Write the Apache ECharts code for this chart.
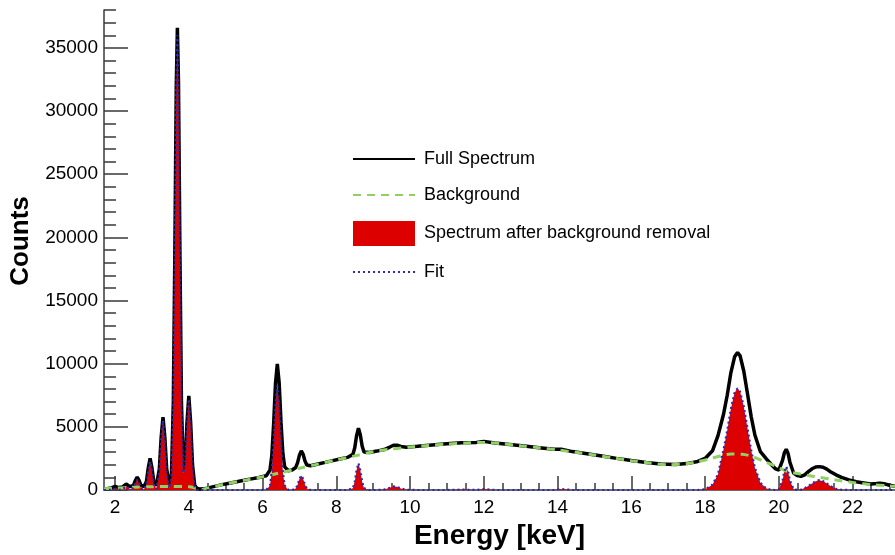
<!DOCTYPE html>
<html>
<head>
<meta charset="utf-8">
<script src="https://cdn.jsdelivr.net/npm/echarts@6/dist/echarts.min.js"></script>
<style>
  html, body { margin: 0; padding: 0; background: #fff; }
  #chart { width: 895px; height: 555px; }
</style>
</head>
<body>
<div id="chart"></div>
<script>
// energy grid (keV), denser around the peaks
var energy = [
  1.70, 1.80, 1.90, 2.00, 2.10, 2.20, 2.25, 2.30, 2.35, 2.40,
  2.50, 2.55, 2.60, 2.65, 2.70, 2.78, 2.85, 2.90, 2.95, 3.00,
  3.05, 3.12, 3.20, 3.25, 3.30, 3.35, 3.40, 3.47, 3.53, 3.58,
  3.62, 3.66, 3.69, 3.72, 3.76, 3.80, 3.85, 3.90, 3.95, 4.00,
  4.05, 4.10, 4.16, 4.22, 4.30, 4.40, 4.50, 4.70, 4.90, 5.10,
  5.30, 5.50, 5.70, 5.90, 6.10, 6.20, 6.25, 6.30, 6.35, 6.40,
  6.45, 6.50, 6.55, 6.60, 6.70, 6.80, 6.90, 6.95, 7.00, 7.05,
  7.10, 7.15, 7.20, 7.30, 7.50, 7.70, 7.90, 8.10, 8.30, 8.45,
  8.50, 8.55, 8.60, 8.65, 8.70, 8.75, 8.80, 8.90, 9.10, 9.30,
  9.45, 9.55, 9.65, 9.75, 9.90, 10.2, 10.6, 11.0, 11.4, 11.8,
  12.0, 12.3, 12.7, 13.1, 13.5, 13.9, 14.1, 14.4, 14.8, 15.2,
  15.6, 16.0, 16.4, 16.8, 17.2, 17.5, 17.8, 18.0, 18.2, 18.35,
  18.5, 18.6, 18.7, 18.8, 18.88, 18.95, 19.05, 19.15, 19.25, 19.35,
  19.5, 19.65, 19.8, 19.9, 20.0, 20.1, 20.15, 20.2, 20.25, 20.3,
  20.4, 20.5, 20.6, 20.7, 20.8, 20.9, 21.0, 21.1, 21.2, 21.3,
  21.4, 21.55, 21.7, 21.9, 22.1, 22.3, 22.5, 22.65, 22.75, 22.85,
  23.0, 23.15
];

// full spectrum (black)
var fullCounts = [
  100, 117, 160, 280, 190, 231, 370, 472, 384, 259,
  373, 753, 1028, 761, 389, 265, 678, 1739, 2506, 1747,
  692, 345, 1643, 4160, 5772, 4164, 1651, 422, 1288, 6975,
  18473, 32070, 36600, 32300, 18464, 6992, 1584, 2136, 5343, 7450,
  5312, 1995, 364, 139, 70, 90, 150, 290, 425, 540,
  655, 765, 880, 995, 1130, 1560, 2710, 5220, 8415, 9985,
  8480, 5350, 2905, 1830, 1525, 1585, 1784, 2167, 2759, 3095,
  2829, 2302, 1984, 1925, 2060, 2190, 2325, 2455, 2580, 2820,
  3350, 4310, 4885, 4375, 3480, 3015, 2920, 2970, 3080, 3200,
  3400, 3545, 3545, 3445, 3390, 3460, 3570, 3660, 3750, 3770,
  3850, 3720, 3610, 3490, 3350, 3230, 3230, 3040, 2870, 2690,
  2505, 2330, 2180, 2060, 2020, 2090, 2260, 2500, 3100, 4300,
  6000, 7500, 9300, 10545, 10890, 10615, 9400, 7625, 5810, 4355,
  3030, 2500, 2000, 1700, 1580, 2350, 2950, 3230, 2900, 2200,
  1350, 1150, 1080, 1200, 1450, 1680, 1820, 1850, 1800, 1650,
  1450, 1200, 1000, 800, 650, 560, 470, 510, 540, 500,
  380, 290
];

// spectrum after background removal (red fill), also drawn as the fit
var netCounts = [
  0, 0, 20, 100, 20, 53, 185, 280, 185, 53,
  153, 529, 800, 529, 153, 23, 430, 1487, 2250, 1487,
  430, 80, 1375, 3890, 5500, 3890, 1375, 143, 1010, 6700,
  18200, 31800, 36000, 31800, 18200, 6730, 1325, 1880, 5090, 7200,
  5090, 1800, 202, 9, 0, 0, 0, 0, 0, 0,
  0, 0, 0, 0, 7, 363, 1419, 3779, 6790, 8250,
  6790, 3779, 1419, 363, 7, 2, 115, 414, 891, 1150,
  891, 414, 115, 2, 0, 0, 0, 0, 0, 148,
  649, 1575, 2120, 1575, 649, 148, 18, 0, 0, 40,
  170, 280, 250, 120, 20, 0, 0, 0, 30, 0,
  70, 0, 0, 0, 0, 0, 80, 0, 0, 0,
  0, 0, 0, 0, 0, 0, 0, 60, 420, 1250,
  3200, 4700, 6450, 7700, 8050, 7780, 6600, 4890, 3140, 1770,
  570, 140, 12, 0, 52, 760, 1480, 1850, 1480, 760,
  52, 0, 30, 150, 310, 515, 700, 780, 700, 515,
  310, 94, 19, 0, 0, 0, 0, 0, 0, 0,
  0, 0
];

// background estimate (green dashed), coarser grid
var bgEnergy = [
  1.7, 2.0, 2.5, 3.0, 3.5, 4.0, 4.2, 4.35, 4.5, 4.9,
  5.5, 6.0, 6.5, 7.0, 7.5, 8.0, 8.5, 9.0, 9.5, 10.0,
  10.5, 11.0, 11.5, 12.0, 12.5, 13.0, 13.5, 14.0, 14.5, 15.0,
  15.5, 16.0, 16.5, 17.0, 17.5, 17.8, 18.1, 18.4, 18.7, 19.0,
  19.3, 19.6, 19.9, 20.2, 20.5, 20.8, 21.1, 21.5, 22.0, 22.5,
  23.0, 23.15
];
var bgCounts = [
  100, 150, 220, 260, 280, 250, 140, 40, 150, 420,
  760, 1050, 1380, 1720, 2050, 2380, 2700, 3030, 3250, 3400,
  3530, 3640, 3720, 3760, 3660, 3500, 3340, 3170, 2980, 2770,
  2540, 2320, 2140, 2000, 2080, 2250, 2450, 2690, 2850, 2830,
  2640, 2250, 1900, 1500, 1300, 1150, 1000, 820, 600, 430,
  320, 290
];

// ticks
var xMajorTicks = [2, 4, 6, 8, 10, 12, 14, 16, 18, 20, 22];
var xMinorTicks = [2, 2.5, 3, 3.5, 4, 4.5, 5, 5.5, 6, 6.5, 7, 7.5, 8, 8.5, 9, 9.5, 10, 10.5, 11, 11.5,
  12, 12.5, 13, 13.5, 14, 14.5, 15, 15.5, 16, 16.5, 17, 17.5, 18, 18.5, 19, 19.5, 20, 20.5, 21, 21.5,
  22, 22.5, 23];
var yMajorTicks = [0, 5000, 10000, 15000, 20000, 25000, 30000, 35000];
var yMinorTicks = [0, 1000, 2000, 3000, 4000, 5000, 6000, 7000, 8000, 9000, 10000, 11000, 12000, 13000,
  14000, 15000, 16000, 17000, 18000, 19000, 20000, 21000, 22000, 23000, 24000, 25000, 26000, 27000,
  28000, 29000, 30000, 31000, 32000, 33000, 34000, 35000, 36000, 37000, 38000];

function pairs(xs, ys) {
  var out = [];
  for (var i = 0; i < xs.length; i++) out.push([xs[i], ys[i]]);
  return out;
}

var font = '"Liberation Sans", Arial, Helvetica, sans-serif';
var axisColor = '#3a3a3a';
// hide the circle ECharts puts in the middle of line legend icons
var noSymbol = { opacity: 0 };

var chart = echarts.init(document.getElementById('chart'), null, { renderer: 'canvas' });

var option = {
  animation: false,
  backgroundColor: '#fff',
  grid: { left: 104, right: 0, top: 10, bottom: 65 },
  legend: {
    orient: 'vertical',
    left: 347,
    top: 144,
    itemWidth: 62,
    itemHeight: 25,
    itemGap: 16,
    selectedMode: false,
    textStyle: { fontFamily: font, fontSize: 18, color: '#000', padding: [0, 0, 0, 4] },
    data: [
      { name: 'Full Spectrum', itemStyle: noSymbol },
      { name: 'Background', itemStyle: noSymbol },
      { name: 'Spectrum after background removal', icon: 'rect' },
      { name: 'Fit', itemStyle: noSymbol }
    ]
  },
  xAxis: [
    {
      type: 'value', min: 1.7, max: 23.15, position: 'bottom',
      axisLine: { show: true, lineStyle: { color: axisColor, width: 1.5 } },
      axisTick: { show: true, inside: true, length: 14, customValues: xMajorTicks,
        lineStyle: { color: axisColor, width: 1.5 } },
      axisLabel: { customValues: xMajorTicks, fontFamily: font, fontSize: 19, color: '#000', margin: 8 },
      splitLine: { show: false },
      name: 'Energy [keV]', nameLocation: 'middle', nameGap: 26,
      nameTextStyle: { fontFamily: font, fontSize: 28, fontWeight: 'bold', color: '#000' }
    },
    {
      type: 'value', min: 1.7, max: 23.15, position: 'bottom', offset: 0,
      axisLine: { show: false },
      axisTick: { show: true, inside: true, length: 7, customValues: xMinorTicks,
        lineStyle: { color: axisColor, width: 1.5 } },
      axisLabel: { show: false },
      splitLine: { show: false }
    }
  ],
  yAxis: [
    {
      type: 'value', min: 0, max: 38000, position: 'left',
      axisLine: { show: true, lineStyle: { color: axisColor, width: 1.5 } },
      axisTick: { show: true, inside: true, length: 24, customValues: yMajorTicks,
        lineStyle: { color: axisColor, width: 1.5 } },
      axisLabel: {
        customValues: yMajorTicks, fontFamily: font, fontSize: 19, color: '#000', margin: 6,
        formatter: function (v) { return String(v); }
      },
      splitLine: { show: false },
      name: 'Counts', nameLocation: 'middle', nameGap: 60,
      nameTextStyle: { fontFamily: font, fontSize: 26, fontWeight: 'bold', color: '#000', padding: [0, 0, 0, 18] }
    },
    {
      type: 'value', min: 0, max: 38000, position: 'left', offset: 0,
      axisLine: { show: false },
      axisTick: { show: true, inside: true, length: 12, customValues: yMinorTicks,
        lineStyle: { color: axisColor, width: 1.5 } },
      axisLabel: { show: false },
      splitLine: { show: false }
    }
  ],
  series: [
    {
      name: 'Full Spectrum', type: 'line', data: pairs(energy, fullCounts),
      symbol: 'none', z: 2,
      lineStyle: { color: '#000', width: 3.5 }, itemStyle: { color: '#000' }
    },
    {
      name: 'Spectrum after background removal', type: 'line', data: pairs(energy, netCounts),
      symbol: 'none', z: 3,
      lineStyle: { color: '#dd0000', width: 0 }, itemStyle: { color: '#dd0000' },
      areaStyle: { color: '#dd0000', opacity: 1 }
    },
    {
      name: 'Background', type: 'line', data: pairs(bgEnergy, bgCounts),
      symbol: 'none', smooth: 0.3, z: 4,
      lineStyle: { color: '#8fd163', width: 3, type: [8, 6] }, itemStyle: { color: '#8fd163' }
    },
    {
      name: 'Fit', type: 'line', data: pairs(energy, netCounts),
      symbol: 'none', z: 5,
      lineStyle: { color: '#2b2bb0', width: 2.2, type: [2, 3] }, itemStyle: { color: '#2b2bb0' }
    }
  ]
};

chart.setOption(option);
</script>
</body>
</html>
